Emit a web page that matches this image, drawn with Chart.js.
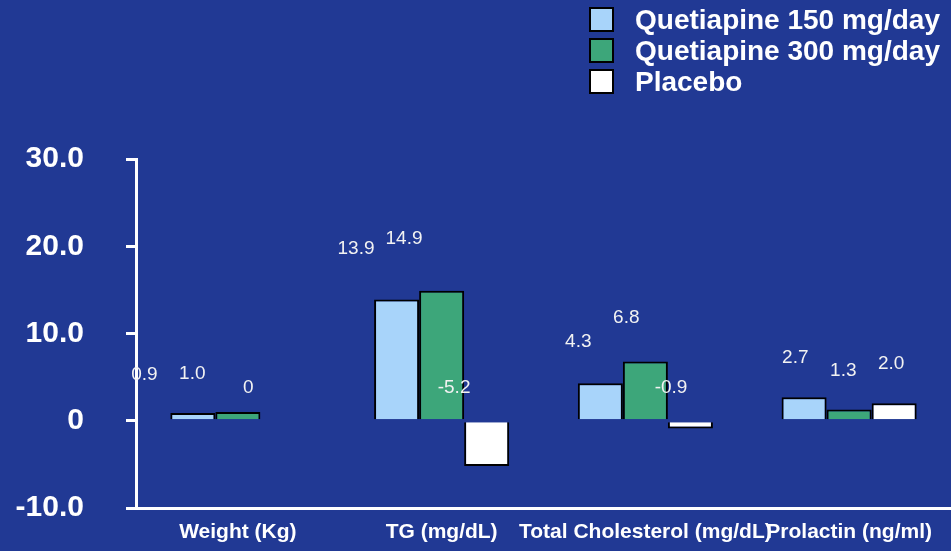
<!DOCTYPE html>
<html>
<head>
<meta charset="utf-8">
<script src="https://cdn.jsdelivr.net/npm/chart.js@4.4.0/dist/chart.umd.min.js"></script>
<style>
  html, body { margin: 0; padding: 0; background: #213994; }
  canvas { display: block; }
</style>
</head>
<body>
<canvas id="chart" width="951" height="551"></canvas>
<script>
// Mean change from baseline per measure
const categories = ["Weight (Kg)", "TG (mg/dL)", "Total Cholesterol (mg/dL)", "Prolactin (ng/ml)"];
const seriesNames = ["Quetiapine 150 mg/day", "Quetiapine 300 mg/day", "Placebo"];
const q150 = [0.9, 13.9, 4.3, 2.7];
const q300 = [1.0, 14.9, 6.8, 1.3];
const placebo = [0, -5.2, -0.9, 2.0];
const yTicks = [30, 20, 10, 0, -10];

const FONT = "'Liberation Sans', Arial, Helvetica, sans-serif";
const fmt = v => (v === 0 ? "0" : v.toFixed(1));

// value text sits up and to the left of each bar
const valueLabels = {
  id: "valueLabels",
  afterDatasetsDraw(chart) {
    const { ctx, chartArea, scales } = chart;
    ctx.save();
    ctx.font = "19px " + FONT;
    ctx.fillStyle = "#f2f2f2";
    ctx.textAlign = "right";
    ctx.textBaseline = "middle";
    chart.data.datasets.forEach((ds, i) => {
      chart.getDatasetMeta(i).data.forEach((bar, j) => {
        const v = ds.data[j];
        const x = chartArea.left + (bar.x - chartArea.left) * 1.065 - 39;
        const at = v > 0 ? v * 1.115 + 4.25 : 3.8;
        ctx.fillText(fmt(v), x, scales.y.getPixelForValue(at));
      });
    });
    ctx.restore();
  }
};

// stacked legend in the top right corner
const cornerLegend = {
  id: "cornerLegend",
  afterDraw(chart) {
    const ctx = chart.ctx;
    ctx.save();
    ctx.font = "bold 28px " + FONT;
    ctx.textBaseline = "middle";
    ctx.textAlign = "left";
    chart.data.datasets.forEach((ds, i) => {
      const cy = 19 + i * 31;
      ctx.fillStyle = ds.backgroundColor;
      ctx.fillRect(589, cy - 12, 25, 25);
      ctx.lineWidth = 2;
      ctx.strokeStyle = "#000";
      ctx.strokeRect(590, cy - 11, 23, 23);
      ctx.fillStyle = "#fff";
      ctx.fillText(ds.label, 635, cy + 2);
    });
    ctx.restore();
  }
};

const colors = ["#a8d4fa", "#3da67a", "#ffffff"];
const series = [q150, q300, placebo];

new Chart(document.getElementById("chart"), {
  type: "bar",
  data: {
    labels: categories,
    datasets: series.map((d, i) => ({
      label: seriesNames[i],
      data: d,
      backgroundColor: colors[i],
      borderColor: "#000",
      borderWidth: 2,
      categoryPercentage: 0.663,
      barPercentage: 1
    }))
  },
  options: {
    responsive: false,
    animation: false,
    layout: { padding: { top: 159, right: 0, bottom: 0, left: 0 } },
    plugins: {
      legend: { display: false },
      tooltip: { enabled: false }
    },
    scales: {
      x: {
        grid: { display: false, drawTicks: false },
        border: { color: "#fff", width: 3 },
        ticks: {
          color: "#fff",
          font: { family: FONT, size: 21, weight: "bold" },
          autoSkip: false,
          maxRotation: 0,
          padding: 12
        },
        afterFit(s) { s.height = 43; }
      },
      y: {
        min: yTicks[yTicks.length - 1],
        max: yTicks[0],
        afterBuildTicks(s) { s.ticks = yTicks.map(v => ({ value: v })); },
        grid: { drawOnChartArea: false, color: "#fff", lineWidth: 3, tickLength: 10 },
        border: { color: "#fff", width: 3 },
        ticks: {
          color: "#fff",
          font: { family: FONT, size: 30, weight: "bold" },
          padding: 42,
          callback: v => fmt(v)
        },
        afterFit(s) {
          s.width = 136;
          s.paddingTop = 0;
          s.paddingBottom = 0;
        }
      }
    }
  },
  plugins: [valueLabels, cornerLegend]
});
</script>
</body>
</html>
